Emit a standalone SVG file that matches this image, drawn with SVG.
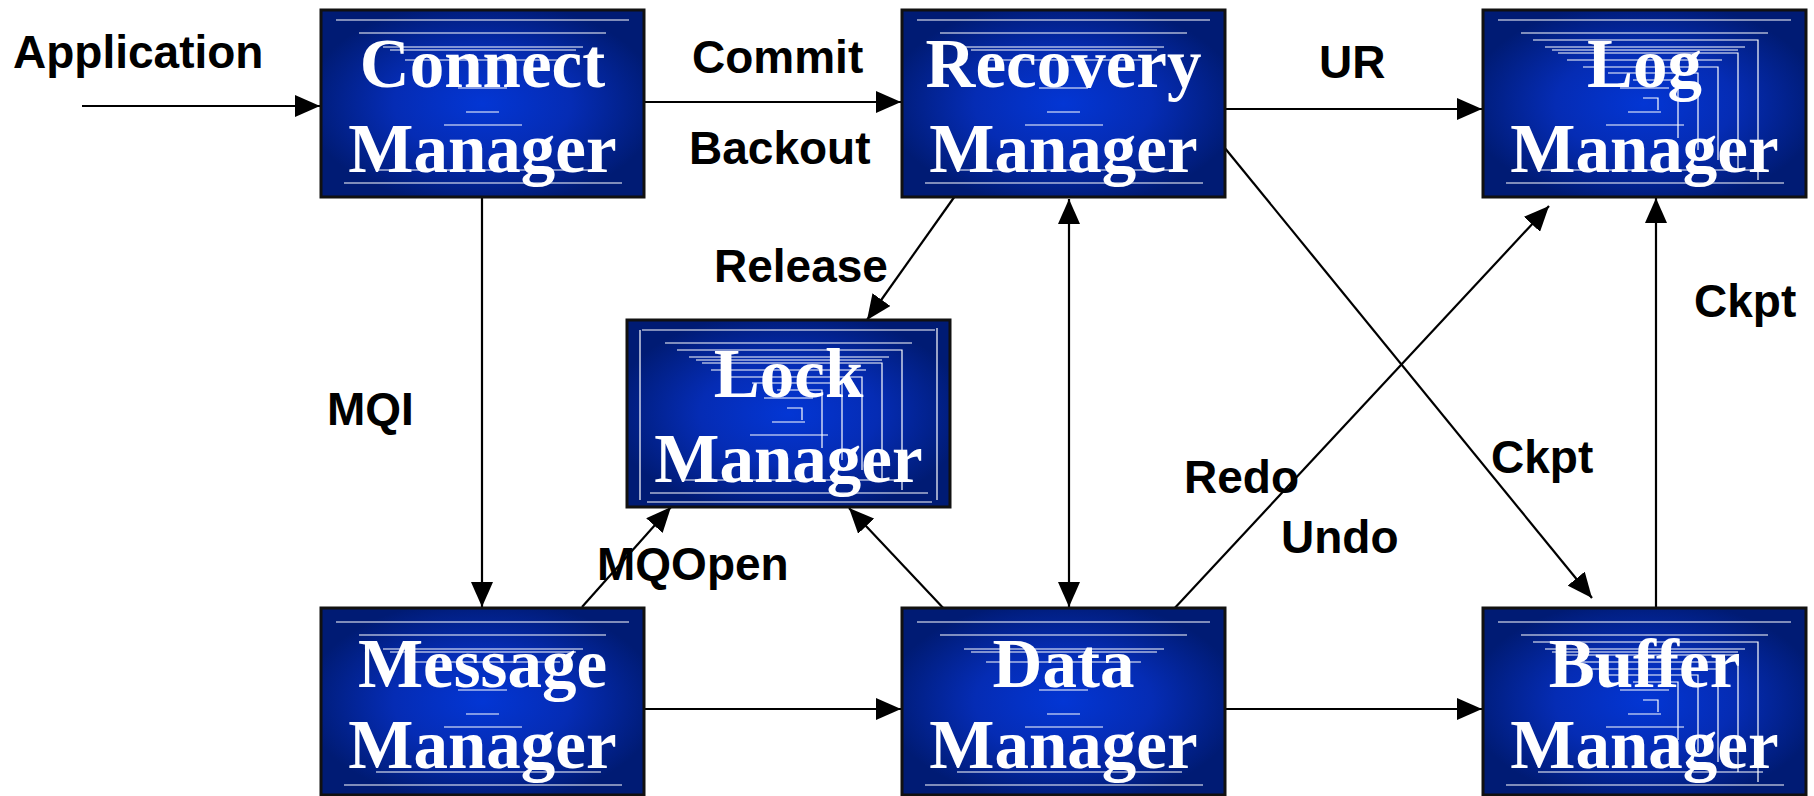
<svg xmlns="http://www.w3.org/2000/svg" width="1814" height="796" viewBox="0 0 1814 796">
  <style>
    .box { fill: url(#boxFill); stroke: #111; stroke-width: 3; }
    .title { font-family: "Liberation Serif", "Times New Roman", serif; font-weight: bold; font-size: 69px; fill: #fff; text-anchor: middle; }
    .lbl { font-family: "Liberation Sans", Arial, sans-serif; font-weight: bold; font-size: 46px; fill: #000; }
    .wire { stroke: #000; stroke-width: 2.2; fill: none; marker-end: url(#head); }
    .streak { stroke: #fff; stroke-width: 1.2; fill: none; }
  </style>
  <defs>
    <radialGradient id="boxFill" cx="50%" cy="50%" r="55%">
      <stop offset="0" stop-color="#0336d4"/>
      <stop offset="0.5" stop-color="#052cb4"/>
      <stop offset="1" stop-color="#001b74"/>
    </radialGradient>
    <marker id="head" markerUnits="userSpaceOnUse" markerWidth="26" markerHeight="22" viewBox="0 0 26 22" refX="25" refY="11" orient="auto-start-reverse">
      <path d="M0,0 L25,11 L0,22 Z" fill="#000"/>
    </marker>
    <!-- thin white streaks drawn over each box face -->
    <g id="streaks" class="streak">
      <path d="M15,10 H308 M38,23 H285 M62,37 H262 M69,40 H255 M84,50 H239 M137,78 H186 M145,102 H178 M123,115 H201 M55,160 H280 M23,173 H301"/>
    </g>
    <g id="corners" class="streak">
      <path d="M50,30 H275 V170 M75,43 H255 V160 M100,57 H235 V150 M125,63 H215 V140 M150,70 H195 V128 M160,88 H175 V100"/>
    </g>
  </defs>

  <rect width="1814" height="796" fill="#fff"/>

  <!-- connectors -->
  <g id="connectors">
    <line class="wire" x1="82" y1="106" x2="320" y2="106"/>
    <line class="wire" x1="644" y1="102" x2="901" y2="102"/>
    <line class="wire" x1="1224" y1="109" x2="1482" y2="109"/>
    <line class="wire" x1="482" y1="197" x2="482" y2="607"/>
    <line class="wire" x1="582" y1="607" x2="671" y2="507"/>
    <line class="wire" x1="947" y1="612" x2="849" y2="508"/>
    <line class="wire" x1="955" y1="196" x2="867" y2="320"/>
    <line class="wire" x1="1069" y1="199" x2="1069" y2="607" marker-start="url(#head)"/>
    <line class="wire" x1="644" y1="709" x2="901" y2="709"/>
    <line class="wire" x1="1224" y1="709" x2="1482" y2="709"/>
    <line class="wire" x1="1172" y1="611" x2="1549" y2="206"/>
    <line class="wire" x1="1224" y1="147" x2="1592" y2="598"/>
    <line class="wire" x1="1656" y1="608" x2="1656" y2="198"/>
  </g>

  <!-- connector labels -->
  <g id="labels">
    <text class="lbl" x="13" y="68">Application</text>
    <text class="lbl" x="692" y="73">Commit</text>
    <text class="lbl" x="689" y="164">Backout</text>
    <text class="lbl" x="1319" y="78">UR</text>
    <text class="lbl" x="714" y="282">Release</text>
    <text class="lbl" x="327" y="425">MQI</text>
    <text class="lbl" x="597" y="580">MQOpen</text>
    <text class="lbl" x="1184" y="493">Redo</text>
    <text class="lbl" x="1281" y="553">Undo</text>
    <text class="lbl" x="1491" y="473">Ckpt</text>
    <text class="lbl" x="1694" y="317">Ckpt</text>
  </g>

  <!-- nodes -->
  <g id="connect-manager" transform="translate(321,10)">
    <rect class="box" width="323" height="187"/>
    <use href="#streaks"/>
    <text class="title" x="161.5" y="77">Connect</text>
    <text class="title" x="161.5" y="162">Manager</text>
  </g>

  <g id="recovery-manager" transform="translate(902,10)">
    <rect class="box" width="323" height="187"/>
    <use href="#streaks"/>
    <text class="title" x="161.5" y="77">Recovery</text>
    <text class="title" x="161.5" y="162">Manager</text>
  </g>

  <g id="log-manager" transform="translate(1483,10)">
    <rect class="box" width="323" height="187"/>
    <use href="#streaks"/>
    <use href="#corners"/>
    <text class="title" x="161.5" y="77">Log</text>
    <text class="title" x="161.5" y="162">Manager</text>
  </g>

  <g id="lock-manager" transform="translate(627,320)">
    <rect class="box" width="323" height="187"/>
    <use href="#streaks"/>
    <use href="#corners"/>
    <path class="streak" d="M13,10 V180 M310,8 V180 M20,182 H305"/>
    <text class="title" x="161.5" y="77">Lock</text>
    <text class="title" x="161.5" y="162">Manager</text>
  </g>

  <g id="message-manager" transform="translate(321,608)">
    <rect class="box" width="323" height="187"/>
    <use href="#streaks" transform="translate(0,4)"/>
    <text class="title" x="161.5" y="79">Message</text>
    <text class="title" x="161.5" y="160">Manager</text>
  </g>

  <g id="data-manager" transform="translate(902,608)">
    <rect class="box" width="323" height="187"/>
    <use href="#streaks" transform="translate(0,4)"/>
    <text class="title" x="161.5" y="79">Data</text>
    <text class="title" x="161.5" y="160">Manager</text>
  </g>

  <g id="buffer-manager" transform="translate(1483,608)">
    <rect class="box" width="323" height="187"/>
    <use href="#streaks" transform="translate(0,4)"/>
    <use href="#corners" transform="translate(0,4)"/>
    <text class="title" x="161.5" y="79">Buffer</text>
    <text class="title" x="161.5" y="160">Manager</text>
  </g>
</svg>
